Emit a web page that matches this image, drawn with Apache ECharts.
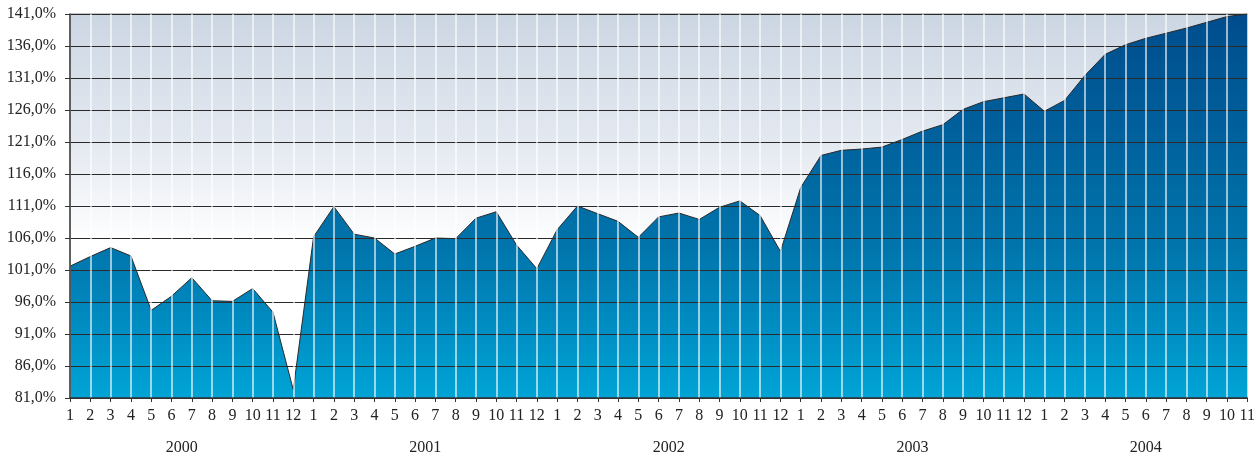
<!DOCTYPE html>
<html>
<head>
<meta charset="utf-8">
<script src="https://cdn.jsdelivr.net/npm/echarts@6/dist/echarts.min.js"></script>
<style>
  html, body { margin: 0; padding: 0; background: #fff; }
  #main { width: 1258px; height: 456px; }
</style>
</head>
<body>
<div id="main"></div>
<script>
var years = ['2000', '2001', '2002', '2003', '2004'];
var monthsPerYear = [12, 12, 12, 12, 11];
// index values, % (one per month, 2000-1 .. 2004-11)
var values2000 = [101.6, 103.1, 104.5, 103.2, 94.7, 96.9, 99.8, 96.2, 96.1, 98.1, 94.4, 82.3];
var values2001 = [106.2, 110.9, 106.6, 106.0, 103.5, 104.7, 106.0, 105.9, 109.1, 110.1, 104.9, 101.2];
var values2002 = [107.3, 111.0, 109.8, 108.6, 106.1, 109.3, 109.9, 108.9, 110.8, 111.8, 109.5, 103.9];
var values2003 = [113.9, 118.9, 119.7, 119.9, 120.2, 121.4, 122.7, 123.7, 126.1, 127.3, 127.9, 128.5];
var values2004 = [125.8, 127.5, 131.4, 134.7, 136.2, 137.2, 138.0, 138.8, 139.7, 140.6, 141.0];
var yTicks = { min: 81, max: 141, step: 5 };

var allValues = [].concat(values2000, values2001, values2002, values2003, values2004);
var categories = [];
var yearCenters = [];
var idx = 0;
for (var y = 0; y < years.length; y++) {
  yearCenters.push(idx + (monthsPerYear[y] - 1) / 2);
  for (var m = 1; m <= monthsPerYear[y]; m++) {
    categories.push(years[y] + '-' + m);
    idx++;
  }
}

var chart = echarts.init(document.getElementById('main'));
var font = '"Liberation Serif", "DejaVu Serif", serif';

var option = {
  animation: false,
  grid: {
    left: 70, right: 7, top: 14, bottom: 56,
    show: true,
    borderColor: '#888',
    borderWidth: 1,
    backgroundColor: new echarts.graphic.LinearGradient(0, 0, 0, 1, [
      { offset: 0, color: '#ccd6e3' },
      { offset: 0.35, color: '#e5eaf1' },
      { offset: 0.6, color: '#ffffff' },
      { offset: 1, color: '#ffffff' }
    ])
  },
  xAxis: [{
    type: 'category',
    data: categories,
    boundaryGap: false,
    z: 5,
    axisLine: { lineStyle: { color: '#333', width: 1.5 } },
    axisTick: { show: true, length: 4, lineStyle: { color: '#333' } },
    axisLabel: {
      interval: 0,
      margin: 10,
      color: '#222',
      fontFamily: font,
      fontSize: 16,
      formatter: function (v) { return v.split('-')[1]; }
    },
    splitLine: { show: true, lineStyle: { color: 'rgba(255,255,255,0.8)', width: 1.5 } }
  }, {
    type: 'value',
    position: 'bottom',
    min: 0,
    max: categories.length - 1,
    offset: 0,
    axisLine: { show: false },
    axisTick: { show: false },
    splitLine: { show: false },
    axisLabel: {
      customValues: yearCenters,
      margin: 42,
      color: '#222',
      fontFamily: font,
      fontSize: 16,
      formatter: function (v) {
        var i = yearCenters.indexOf(v);
        return i >= 0 ? years[i] : '';
      }
    }
  }],
  yAxis: {
    type: 'value',
    min: yTicks.min,
    max: yTicks.max,
    interval: yTicks.step,
    z: 5,
    axisLine: { show: true, lineStyle: { color: '#333', width: 1.5 } },
    axisTick: { show: true, length: 5, lineStyle: { color: '#333' } },
    axisLabel: {
      margin: 14,
      color: '#222',
      fontFamily: font,
      fontSize: 16,
      formatter: function (v) { return v.toFixed(1).replace('.', ',') + '%'; }
    },
    splitLine: { show: true, lineStyle: { color: '#2a2a2a', width: 1.2 } }
  },
  series: [{
    type: 'line',
    data: allValues,
    z: 1,
    symbol: 'none',
    lineStyle: { color: '#2a2a2a', width: 1 },
    areaStyle: {
      opacity: 1,
      color: new echarts.graphic.LinearGradient(0, 0, 0, 1, [
        { offset: 0, color: '#004c8c' },
        { offset: 0.6, color: '#0074ab' },
        { offset: 1, color: '#00a4d6' }
      ])
    }
  }]
};

chart.setOption(option);
</script>
</body>
</html>
